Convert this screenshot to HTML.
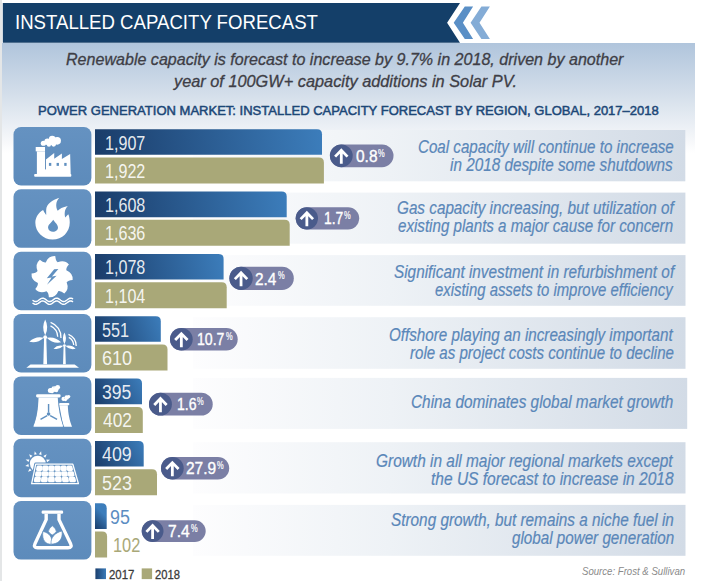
<!DOCTYPE html>
<html><head><meta charset="utf-8"><style>
html,body{margin:0;padding:0;width:721px;height:581px;overflow:hidden;background:#fff}
body{position:relative;font-family:"Liberation Sans",sans-serif}
#panel{position:absolute;left:2px;top:42.8px;width:693px;height:539px;background:linear-gradient(to bottom,#b0c5dc 0px,#d3deea 50px,#f4f6f9 95px,#ffffff 110px)}
#lline{position:absolute;left:0.3px;top:0;width:1.5px;height:581px;background:#e4e6e7}
svg{position:absolute;left:0;top:0}
.t{position:absolute;white-space:nowrap;line-height:1;transform-origin:0 0}
</style></head><body>
<div id="panel"></div><div id="lline"></div>
<svg width="721" height="581" viewBox="0 0 721 581">
<defs>
<linearGradient id="ib" x1="0" y1="0" x2="0" y2="1"><stop offset="0" stop-color="#6592c1"/><stop offset="1" stop-color="#5d8bbb"/></linearGradient>
<linearGradient id="band" x1="0" y1="0" x2="1" y2="0"><stop offset="0" stop-color="#fdfdfe"/><stop offset="0.4" stop-color="#eef2f6"/><stop offset="1" stop-color="#d2dbe6"/></linearGradient>
<linearGradient id="lg" x1="0" y1="0" x2="1" y2="0"><stop offset="0" stop-color="#1b3f6e"/><stop offset="1" stop-color="#3b7bb9"/></linearGradient>
</defs>
<polygon points="2.8,2.9 460,2.9 447.1,22.7 460,42.8 2.8,42.8" fill="#143f69"/>
<polygon points="464.8,6.5 473.1,6.5 462.9,22.7 473.1,39.1 464.8,39.1 453.7,22.7" fill="#5a8fc6"/>
<polygon points="481.4,6.5 489.9,6.5 479.5,22.7 489.9,39.1 481.4,39.1 470.6,22.7" fill="#84acd6"/>
<rect x="13.5" y="127.00" width="77.9" height="58.5" rx="7.5" fill="url(#ib)"/>
<rect x="13.5" y="189.35" width="77.9" height="58.5" rx="7.5" fill="url(#ib)"/>
<rect x="13.5" y="251.70" width="77.9" height="58.5" rx="7.5" fill="url(#ib)"/>
<rect x="13.5" y="314.05" width="77.9" height="58.5" rx="7.5" fill="url(#ib)"/>
<rect x="13.5" y="376.40" width="77.9" height="58.5" rx="7.5" fill="url(#ib)"/>
<rect x="13.5" y="438.75" width="77.9" height="58.5" rx="7.5" fill="url(#ib)"/>
<rect x="13.5" y="501.10" width="77.9" height="58.5" rx="7.5" fill="url(#ib)"/>
<rect x="193" y="130.00" width="492.30" height="51.30" fill="url(#band)"/>
<rect x="193" y="192.60" width="492.40" height="51.10" fill="url(#band)"/>
<rect x="193" y="255.10" width="492.50" height="50.70" fill="url(#band)"/>
<rect x="193" y="317.20" width="492.50" height="51.60" fill="url(#band)"/>
<rect x="193" y="377.90" width="494.20" height="51.00" fill="url(#band)"/>
<rect x="193" y="442.20" width="492.50" height="51.30" fill="url(#band)"/>
<rect x="193" y="504.90" width="492.50" height="50.90" fill="url(#band)"/>
<linearGradient id="bg0" gradientUnits="userSpaceOnUse" x1="95" y1="154.80" x2="322.00" y2="129.20"><stop offset="0" stop-color="#1a3c69"/><stop offset="1" stop-color="#3c7dbb"/></linearGradient>
<path d="M95,129.20 H317.00 Q322.00,129.20 322.00,134.20 V154.80 H95 Z" fill="url(#bg0)"/>
<path d="M95,157.50 H318.90 Q323.90,157.50 323.90,162.50 V183.50 H95 Z" fill="#a9a878"/>
<linearGradient id="bg1" gradientUnits="userSpaceOnUse" x1="95" y1="217.15" x2="286.70" y2="191.55"><stop offset="0" stop-color="#1a3c69"/><stop offset="1" stop-color="#3c7dbb"/></linearGradient>
<path d="M95,191.55 H281.70 Q286.70,191.55 286.70,196.55 V217.15 H95 Z" fill="url(#bg1)"/>
<path d="M95,219.85 H284.70 Q289.70,219.85 289.70,224.85 V245.85 H95 Z" fill="#a9a878"/>
<linearGradient id="bg2" gradientUnits="userSpaceOnUse" x1="95" y1="279.50" x2="223.60" y2="253.90"><stop offset="0" stop-color="#1a3c69"/><stop offset="1" stop-color="#3c7dbb"/></linearGradient>
<path d="M95,253.90 H218.60 Q223.60,253.90 223.60,258.90 V279.50 H95 Z" fill="url(#bg2)"/>
<path d="M95,282.20 H221.70 Q226.70,282.20 226.70,287.20 V308.20 H95 Z" fill="#a9a878"/>
<linearGradient id="bg3" gradientUnits="userSpaceOnUse" x1="95" y1="341.85" x2="160.80" y2="316.25"><stop offset="0" stop-color="#1a3c69"/><stop offset="1" stop-color="#3c7dbb"/></linearGradient>
<path d="M95,316.25 H155.80 Q160.80,316.25 160.80,321.25 V341.85 H95 Z" fill="url(#bg3)"/>
<path d="M95,344.55 H162.50 Q167.50,344.55 167.50,349.55 V370.55 H95 Z" fill="#a9a878"/>
<linearGradient id="bg4" gradientUnits="userSpaceOnUse" x1="95" y1="404.20" x2="142.00" y2="378.60"><stop offset="0" stop-color="#1a3c69"/><stop offset="1" stop-color="#3c7dbb"/></linearGradient>
<path d="M95,378.60 H137.00 Q142.00,378.60 142.00,383.60 V404.20 H95 Z" fill="url(#bg4)"/>
<path d="M95,406.90 H137.80 Q142.80,406.90 142.80,411.90 V432.90 H95 Z" fill="#a9a878"/>
<linearGradient id="bg5" gradientUnits="userSpaceOnUse" x1="95" y1="466.55" x2="143.70" y2="440.95"><stop offset="0" stop-color="#1a3c69"/><stop offset="1" stop-color="#3c7dbb"/></linearGradient>
<path d="M95,440.95 H138.70 Q143.70,440.95 143.70,445.95 V466.55 H95 Z" fill="url(#bg5)"/>
<path d="M95,469.25 H152.00 Q157.00,469.25 157.00,474.25 V495.25 H95 Z" fill="#a9a878"/>
<linearGradient id="bg6" gradientUnits="userSpaceOnUse" x1="95" y1="528.90" x2="106.70" y2="517.20"><stop offset="0" stop-color="#1a3c69"/><stop offset="1" stop-color="#3c7dbb"/></linearGradient>
<path d="M95,503.30 H101.70 Q106.70,503.30 106.70,508.30 V528.90 H95 Z" fill="url(#bg6)"/>
<path d="M95,531.60 H102.10 Q107.10,531.60 107.10,536.60 V557.60 H95 Z" fill="#a9a878"/>
<rect x="329.90" y="144.40" width="63.60" height="22.80" rx="11.40" fill="#7b7fa5"/>
<circle cx="341.30" cy="155.80" r="11.40" fill="#4a5b8b"/>
<path d="M341.30,149.80 V163.80 M335.10,156.60 L341.30,150.20 L347.50,156.60" stroke="#fff" stroke-width="2.8" fill="none" stroke-linejoin="miter"/>
<rect x="295.70" y="207.20" width="63.50" height="22.30" rx="11.15" fill="#7b7fa5"/>
<circle cx="306.85" cy="218.35" r="11.15" fill="#4a5b8b"/>
<path d="M306.85,212.35 V226.35 M300.65,219.15 L306.85,212.75 L313.05,219.15" stroke="#fff" stroke-width="2.8" fill="none" stroke-linejoin="miter"/>
<rect x="229.40" y="266.70" width="64.40" height="23.30" rx="11.65" fill="#7b7fa5"/>
<circle cx="241.05" cy="278.35" r="11.65" fill="#4a5b8b"/>
<path d="M241.05,272.35 V286.35 M234.85,279.15 L241.05,272.75 L247.25,279.15" stroke="#fff" stroke-width="2.8" fill="none" stroke-linejoin="miter"/>
<rect x="170.00" y="327.90" width="67.70" height="22.70" rx="11.35" fill="#7b7fa5"/>
<circle cx="181.35" cy="339.25" r="11.35" fill="#4a5b8b"/>
<path d="M181.35,333.25 V347.25 M175.15,340.05 L181.35,333.65 L187.55,340.05" stroke="#fff" stroke-width="2.8" fill="none" stroke-linejoin="miter"/>
<rect x="149.00" y="392.70" width="63.70" height="22.90" rx="11.45" fill="#7b7fa5"/>
<circle cx="160.45" cy="404.15" r="11.45" fill="#4a5b8b"/>
<path d="M160.45,398.15 V412.15 M154.25,404.95 L160.45,398.55 L166.65,404.95" stroke="#fff" stroke-width="2.8" fill="none" stroke-linejoin="miter"/>
<rect x="161.00" y="456.90" width="68.20" height="22.70" rx="11.35" fill="#7b7fa5"/>
<circle cx="172.35" cy="468.25" r="11.35" fill="#4a5b8b"/>
<path d="M172.35,462.25 V476.25 M166.15,469.05 L172.35,462.65 L178.55,469.05" stroke="#fff" stroke-width="2.8" fill="none" stroke-linejoin="miter"/>
<rect x="141.70" y="520.20" width="64.00" height="21.80" rx="10.90" fill="#7b7fa5"/>
<circle cx="152.60" cy="531.10" r="10.90" fill="#4a5b8b"/>
<path d="M152.60,525.10 V539.10 M146.40,531.90 L152.60,525.50 L158.80,531.90" stroke="#fff" stroke-width="2.8" fill="none" stroke-linejoin="miter"/>
<rect x="95.4" y="568.4" width="10.6" height="10.7" fill="url(#lg)"/>
<rect x="141.7" y="568.4" width="10.4" height="10.7" fill="#a9a878"/>
<g transform="translate(10,124) scale(0.117925)"><g fill="#fff"><circle cx="283" cy="163" r="22"/><circle cx="318" cy="150" r="27"/><circle cx="358" cy="128" r="28"/><circle cx="400" cy="143" r="32"/><circle cx="370" cy="172" r="20"/><circle cx="330" cy="175" r="18"/><ellipse cx="345" cy="158" rx="60" ry="20"/><rect x="218" y="195" width="79" height="37"/><rect x="228" y="232" width="69" height="200"/><polygon points="305,300 375,245 375,295 440,250 440,297 510,255 515,432 305,432"/><rect x="290" y="385" width="20" height="47"/><rect x="205" y="423" width="315" height="24" rx="8"/></g><g fill="#6090c0"><rect x="330" y="330" width="20" height="25"/><rect x="395" y="330" width="20" height="25"/><rect x="460" y="330" width="20" height="25"/></g></g>
<g transform="translate(30,194) scale(0.086059)"><path fill="#fff" d="M340,45 C260,70 190,120 188,185 C187,210 190,230 188,245 C175,225 160,205 152,185 C100,215 62,270 62,335 C62,440 150,530 262,530 C375,530 462,440 462,330 C462,290 455,255 445,235 C430,250 418,262 410,272 C398,230 400,175 440,138 C380,150 340,170 322,195 C295,150 300,85 340,45 Z"/><path fill="#6090c0" d="M270,298 C250,330 208,355 210,392 C212,422 240,440 267,440 C300,440 325,418 325,390 C325,355 290,330 270,298 Z"/></g>
<path fill="#fff" d="M55.35,256.16 Q55.51,260.66 57.69,262.14 Q64.68,259.39 68.93,264.47 Q65.85,267.77 66.35,270.35 Q73.24,273.35 72.64,279.95 Q68.14,280.11 66.66,282.29 Q69.41,289.28 64.33,293.53 Q61.03,290.45 58.45,290.95 Q55.45,297.84 48.85,297.24 Q48.69,292.74 46.51,291.26 Q39.52,294.01 35.27,288.93 Q38.35,285.63 37.85,283.05 Q30.96,280.05 31.56,273.45 Q36.06,273.29 37.54,271.11 Q34.79,264.12 39.87,259.87 Q43.17,262.95 45.75,262.45 Q48.75,255.56 55.35,256.16 Z"/><polygon fill="#6090c0" points="58.4,269.1 54.2,269.3 46.8,278.3 51.6,277.6 47,284.7 56.6,275.8 51.9,276.4"/><polyline fill="none" stroke="#fff" stroke-width="1.45" stroke-linecap="round" points="33.00,300.48 33.66,300.92 34.32,301.26 34.98,301.47 35.64,301.55 36.30,301.48 36.96,301.26 37.62,300.93 38.28,300.50 38.94,300.01 39.60,299.51 40.26,299.04 40.92,298.64 41.58,298.34 42.24,298.18 42.90,298.16 43.56,298.29 44.22,298.55 44.88,298.93 45.54,299.39 46.20,299.89 46.86,300.38 47.52,300.83 48.18,301.19 48.84,301.44 49.50,301.55 50.16,301.51 50.82,301.32 51.48,301.01 52.14,300.59 52.80,300.12 53.46,299.61 54.12,299.13 54.78,298.71 55.44,298.39 56.10,298.20 56.76,298.15 57.42,298.25 58.08,298.49 58.74,298.84 59.40,299.29 60.06,299.78 60.72,300.28 61.38,300.74 62.04,301.13 62.70,301.40 63.36,301.54 64.02,301.53 64.68,301.37 65.34,301.08 66.00,300.69 66.66,300.22 67.32,299.72 67.98,299.23 68.64,298.80 69.30,298.45 69.96,298.23 70.62,298.15 71.28,298.22 71.94,298.43 72.60,298.76"/><polyline fill="none" stroke="#fff" stroke-width="1.45" stroke-linecap="round" points="33.00,303.28 33.66,303.72 34.32,304.06 34.98,304.27 35.64,304.35 36.30,304.28 36.96,304.06 37.62,303.73 38.28,303.30 38.94,302.81 39.60,302.31 40.26,301.84 40.92,301.44 41.58,301.14 42.24,300.98 42.90,300.96 43.56,301.09 44.22,301.35 44.88,301.73 45.54,302.19 46.20,302.69 46.86,303.18 47.52,303.63 48.18,303.99 48.84,304.24 49.50,304.35 50.16,304.31 50.82,304.12 51.48,303.81 52.14,303.39 52.80,302.92 53.46,302.41 54.12,301.93 54.78,301.51 55.44,301.19 56.10,301.00 56.76,300.95 57.42,301.05 58.08,301.29 58.74,301.64 59.40,302.09 60.06,302.58 60.72,303.08 61.38,303.54 62.04,303.93 62.70,304.20 63.36,304.34 64.02,304.33 64.68,304.17 65.34,303.88 66.00,303.49 66.66,303.02 67.32,302.52 67.98,302.03 68.64,301.60 69.30,301.25 69.96,301.03 70.62,300.95 71.28,301.02 71.94,301.23 72.60,301.56"/>
<g transform="translate(24,316) scale(0.092937)"><path fill="#fff" d="M228.0,209.0 Q272.0,123.5 228.0,38.0 Q184.0,123.5 228.0,209.0 ZM210.9,232.9 Q121.8,212.7 56.9,277.1 Q146.0,297.3 210.9,232.9 ZM245.1,233.6 Q308.6,300.4 399.2,283.6 Q335.8,216.7 245.1,233.6 ZM435.0,304.0 Q469.0,241.0 435.0,178.0 Q401.0,241.0 435.0,304.0 ZM423.3,321.4 Q361.1,303.8 317.7,351.6 Q379.9,369.2 423.3,321.4 ZM447.0,321.4 Q491.7,369.6 555.2,352.5 Q510.5,304.3 447.0,321.4 Z"/><circle cx="228" cy="228" r="20" fill="#fff"/><circle cx="435" cy="318" r="15" fill="#fff"/><polygon fill="#fff" points="216,240 240,240 248,520 208,520"/><polygon fill="#fff" points="426,325 444,325 450,520 420,520"/><polygon fill="#fff" points="70,522 545,522 592,556 25,556"/><path fill="none" stroke="#fff" stroke-width="14" d="M286.1,68.3 A170.0,170.0 0 0 1 397.8,236.9 M285.1,105.6 A135.0,135.0 0 0 1 362.9,223.3 M478.4,198.7 A127.0,127.0 0 0 1 561.9,322.4 M481.9,229.7 A100.0,100.0 0 0 1 534.9,312.8"/></g>
<g transform="translate(28,380) scale(0.089445)"><path fill="#fff" d="M350,282 L445,282 C448,380 465,450 492,522 L395,522 Z"/><rect fill="#fff" x="348" y="258" width="114" height="24" rx="10"/><path fill="#fff" stroke="#6090c0" stroke-width="12" d="M118,195 L332,195 C338,320 360,420 398,526 L56,526 C100,420 114,320 118,195 Z"/><path fill="#fff" d="M118,195 L332,195 C338,320 360,420 392,520 L60,520 C102,420 114,320 118,195 Z"/><rect fill="#fff" x="90" y="160" width="275" height="35" rx="15"/><path fill="none" stroke="#6090c0" stroke-width="16" d="M230,268 V362 M140,440 L214,397 M325,440 L248,397"/><circle cx="230" cy="380" r="20" fill="#6090c0"/><circle fill="#fff" cx="250" cy="118" r="28"/><circle fill="#fff" cx="295" cy="98" r="32"/><circle fill="#fff" cx="332" cy="82" r="26"/><circle fill="#fff" cx="318" cy="118" r="20"/><circle fill="#fff" cx="270" cy="130" r="18"/><ellipse fill="#fff" cx="290" cy="106" rx="58" ry="24" transform="rotate(-18 290 106)"/><ellipse fill="#6090c0" cx="290" cy="76" rx="9" ry="4"/><circle fill="#fff" cx="398" cy="212" r="24"/><circle fill="#fff" cx="432" cy="195" r="25"/><circle fill="#fff" cx="455" cy="185" r="18"/><circle fill="#fff" cx="420" cy="222" r="16"/><ellipse fill="#fff" cx="425" cy="203" rx="38" ry="16" transform="rotate(-25 425 203)"/><ellipse fill="#6090c0" cx="408" cy="202" rx="5" ry="3.5"/></g>
<g transform="translate(25,448) scale(0.079051)"><circle fill="#fff" cx="162" cy="197" r="100"/><polygon fill="#fff" points="279.8,178.8 316.9,149.6 269.9,146.2"/><polygon fill="#fff" points="256.2,123.9 274.5,80.5 231.7,100.3"/><polygon fill="#fff" points="209.0,87.4 203.9,40.5 176.1,78.6"/><polygon fill="#fff" points="149.9,78.4 122.8,39.8 117.0,86.6"/><polygon fill="#fff" points="94.0,99.1 51.5,78.5 69.1,122.3"/><polygon fill="#fff" points="55.0,144.4 7.9,146.9 44.5,176.7"/><polygon fill="#fff" points="42.9,202.8 3.0,227.9 49.4,236.2"/><polygon fill="#fff" points="60.7,259.8 37.9,301.1 82.5,285.9"/><polygon fill="#6090c0" stroke="#6090c0" stroke-width="40" stroke-linejoin="round" points="136,204 605,205 676,452 84,452"/><polygon fill="none" stroke="#fff" stroke-width="16" stroke-linejoin="round" points="136,204 605,205 676,452 84,452"/><polygon fill="#fff" stroke="#fff" stroke-width="40" stroke-linejoin="round" points="165.1,242.8 203.3,242.8 199.0,271.8 159.5,271.8"/><polygon fill="#fff" stroke="#fff" stroke-width="40" stroke-linejoin="round" points="240.3,242.8 278.5,242.8 276.6,271.8 237.2,271.8"/><polygon fill="#fff" stroke="#fff" stroke-width="40" stroke-linejoin="round" points="315.6,242.8 353.8,242.8 354.3,271.8 314.8,271.8"/><polygon fill="#fff" stroke="#fff" stroke-width="40" stroke-linejoin="round" points="390.8,242.8 429.0,242.8 431.9,271.8 392.5,271.8"/><polygon fill="#fff" stroke="#fff" stroke-width="40" stroke-linejoin="round" points="466.0,242.8 504.2,242.8 509.6,271.8 470.1,271.8"/><polygon fill="#fff" stroke="#fff" stroke-width="40" stroke-linejoin="round" points="541.3,242.8 579.5,242.8 587.2,271.8 547.8,271.8"/><polygon fill="#fff" stroke="#fff" stroke-width="40" stroke-linejoin="round" points="151.6,313.4 192.8,313.4 188.4,342.4 146.0,342.4"/><polygon fill="#fff" stroke="#fff" stroke-width="40" stroke-linejoin="round" points="232.7,313.4 273.9,313.4 272.0,342.4 229.5,342.4"/><polygon fill="#fff" stroke="#fff" stroke-width="40" stroke-linejoin="round" points="313.8,313.4 355.0,313.4 355.5,342.4 313.1,342.4"/><polygon fill="#fff" stroke="#fff" stroke-width="40" stroke-linejoin="round" points="394.9,313.4 436.1,313.4 439.0,342.4 396.6,342.4"/><polygon fill="#fff" stroke="#fff" stroke-width="40" stroke-linejoin="round" points="476.0,313.4 517.2,313.4 522.6,342.4 480.1,342.4"/><polygon fill="#fff" stroke="#fff" stroke-width="40" stroke-linejoin="round" points="557.1,313.4 598.3,313.4 606.1,342.4 563.7,342.4"/><polygon fill="#fff" stroke="#fff" stroke-width="40" stroke-linejoin="round" points="138.0,384.0 182.2,384.0 177.8,413.2 132.4,413.2"/><polygon fill="#fff" stroke="#fff" stroke-width="40" stroke-linejoin="round" points="225.0,384.0 269.2,384.0 267.3,413.2 221.8,413.2"/><polygon fill="#fff" stroke="#fff" stroke-width="40" stroke-linejoin="round" points="312.0,384.0 356.2,384.0 356.7,413.2 311.3,413.2"/><polygon fill="#fff" stroke="#fff" stroke-width="40" stroke-linejoin="round" points="399.0,384.0 443.2,384.0 446.2,413.2 400.7,413.2"/><polygon fill="#fff" stroke="#fff" stroke-width="40" stroke-linejoin="round" points="486.0,384.0 530.2,384.0 535.6,413.2 490.2,413.2"/><polygon fill="#fff" stroke="#fff" stroke-width="40" stroke-linejoin="round" points="573.0,384.0 617.2,384.0 625.0,413.2 579.6,413.2"/></g>
<g transform="translate(28,506) scale(0.082645)"><path fill="none" stroke="#fff" stroke-width="41" stroke-linejoin="round" d="M220,95 V165 L85,455 Q62,505 115,505 L485,505 Q538,505 515,455 L375,165 V95"/><rect fill="#fff" x="165" y="55" width="260" height="40" rx="15"/><path fill="#fff" stroke="#6090c0" stroke-width="8" d="M180,306 C165,420 218,464 282,462 C302,380 262,328 182,308 Z"/><path fill="#fff" stroke="#6090c0" stroke-width="8" d="M414,302 C325,322 268,388 280,462 C362,460 425,412 412,304 Z"/><path fill="#fff" stroke="#6090c0" stroke-width="8" d="M295,238 Q244,280 248,308 Q262,334 293,352 Q326,334 342,308 Q344,280 295,238 Z"/></g>
</svg>
<div class="t" style="left:15.12px;top:12.90px;font-size:19.8px;color:#fff;transform:scaleX(0.9406)">INSTALLED CAPACITY FORECAST</div>
<div class="t" style="left:66.10px;top:50.80px;font-size:16.5px;font-style:italic;-webkit-text-stroke-width:0.3px;color:#3e3e46;transform:scaleX(0.9740)">Renewable capacity is forecast to increase by 9.7% in 2018, driven by another</div>
<div class="t" style="left:173.59px;top:72.90px;font-size:16.5px;font-style:italic;-webkit-text-stroke-width:0.3px;color:#3e3e46;transform:scaleX(0.9887)">year of 100GW+ capacity additions in Solar PV.</div>
<div class="t" style="left:38.01px;top:103.60px;font-size:13.2px;-webkit-text-stroke:0.5px #1c4777;color:#1c4777;transform:scaleX(0.9873)">POWER GENERATION MARKET: INSTALLED CAPACITY FORECAST BY REGION, GLOBAL, 2017&#8211;2018</div>
<div class="t" style="left:104.61px;top:132.50px;font-size:20.5px;color:rgba(255,255,255,0.9);transform:scaleX(0.7860)">1,907</div>
<div class="t" style="left:104.61px;top:160.80px;font-size:20.5px;color:rgba(255,255,255,0.9);transform:scaleX(0.7860)">1,922</div>
<div class="t" style="left:104.61px;top:194.85px;font-size:20.5px;color:rgba(255,255,255,0.9);transform:scaleX(0.7860)">1,608</div>
<div class="t" style="left:104.61px;top:223.15px;font-size:20.5px;color:rgba(255,255,255,0.9);transform:scaleX(0.7860)">1,636</div>
<div class="t" style="left:104.51px;top:257.20px;font-size:20.5px;color:rgba(255,255,255,0.9);transform:scaleX(0.7860)">1,078</div>
<div class="t" style="left:104.51px;top:285.50px;font-size:20.5px;color:rgba(255,255,255,0.9);transform:scaleX(0.7860)">1,104</div>
<div class="t" style="left:101.91px;top:319.55px;font-size:20.5px;color:rgba(255,255,255,0.9);transform:scaleX(0.7906)">551</div>
<div class="t" style="left:101.82px;top:347.85px;font-size:20.5px;color:rgba(255,255,255,0.9);transform:scaleX(0.8788)">610</div>
<div class="t" style="left:101.74px;top:381.90px;font-size:20.5px;color:rgba(255,255,255,0.9);transform:scaleX(0.8563)">395</div>
<div class="t" style="left:102.60px;top:410.20px;font-size:20.5px;color:rgba(255,255,255,0.9);transform:scaleX(0.8455)">402</div>
<div class="t" style="left:102.00px;top:444.25px;font-size:20.5px;color:rgba(255,255,255,0.9);transform:scaleX(0.8667)">409</div>
<div class="t" style="left:101.83px;top:472.55px;font-size:20.5px;color:rgba(255,255,255,0.9);transform:scaleX(0.8719)">523</div>
<div class="t" style="left:109.73px;top:506.60px;font-size:20.5px;color:#5b8dc2;transform:scaleX(0.8714)">95</div>
<div class="t" style="left:113.40px;top:534.90px;font-size:20.5px;color:#a9a878;transform:scaleX(0.8000)">102</div>
<div class="t" style="left:356.10px;top:147.90px;font-size:17px;-webkit-text-stroke:0.35px #fff;color:#fff;transform:scaleX(0.9087)">0.8</div>
<div class="t" style="left:377.90px;top:147.60px;font-size:10.5px;-webkit-text-stroke:0.2px #fff;color:#fff;transform:scaleX(0.7111)">%</div>
<div class="t" style="left:323.98px;top:210.30px;font-size:17px;-webkit-text-stroke:0.35px #fff;color:#fff;transform:scaleX(0.8182)">1.7</div>
<div class="t" style="left:343.70px;top:210.00px;font-size:10.5px;-webkit-text-stroke:0.2px #fff;color:#fff;transform:scaleX(0.7111)">%</div>
<div class="t" style="left:255.10px;top:270.70px;font-size:17px;-webkit-text-stroke:0.35px #fff;color:#fff;transform:scaleX(0.9043)">2.4</div>
<div class="t" style="left:277.70px;top:270.40px;font-size:10.5px;-webkit-text-stroke:0.2px #fff;color:#fff;transform:scaleX(0.7111)">%</div>
<div class="t" style="left:197.47px;top:331.10px;font-size:17px;-webkit-text-stroke:0.35px #fff;color:#fff;transform:scaleX(0.8281)">10.7</div>
<div class="t" style="left:225.70px;top:330.80px;font-size:10.5px;-webkit-text-stroke:0.2px #fff;color:#fff;transform:scaleX(0.7111)">%</div>
<div class="t" style="left:177.47px;top:396.40px;font-size:17px;-webkit-text-stroke:0.35px #fff;color:#fff;transform:scaleX(0.8273)">1.6</div>
<div class="t" style="left:197.40px;top:396.10px;font-size:10.5px;-webkit-text-stroke:0.2px #fff;color:#fff;transform:scaleX(0.7111)">%</div>
<div class="t" style="left:186.19px;top:460.10px;font-size:17px;-webkit-text-stroke:0.35px #fff;color:#fff;transform:scaleX(0.9094)">27.9</div>
<div class="t" style="left:217.10px;top:459.80px;font-size:10.5px;-webkit-text-stroke:0.2px #fff;color:#fff;transform:scaleX(0.7111)">%</div>
<div class="t" style="left:167.78px;top:523.30px;font-size:17px;-webkit-text-stroke:0.35px #fff;color:#fff;transform:scaleX(0.9174)">7.4</div>
<div class="t" style="left:190.70px;top:523.00px;font-size:10.5px;-webkit-text-stroke:0.2px #fff;color:#fff;transform:scaleX(0.7111)">%</div>
<div class="t" style="left:417.84px;top:139.10px;font-size:17.5px;font-style:italic;-webkit-text-stroke-width:0.2px;color:#5a87b9;transform:scaleX(0.8650)">Coal capacity will continue to increase</div>
<div class="t" style="left:450.30px;top:156.80px;font-size:17.5px;font-style:italic;-webkit-text-stroke-width:0.2px;color:#5a87b9;transform:scaleX(0.8733)">in 2018 despite some shutdowns</div>
<div class="t" style="left:397.43px;top:199.80px;font-size:17.5px;font-style:italic;-webkit-text-stroke-width:0.2px;color:#5a87b9;transform:scaleX(0.8726)">Gas capacity increasing, but utilization of</div>
<div class="t" style="left:397.80px;top:217.80px;font-size:17.5px;font-style:italic;-webkit-text-stroke-width:0.2px;color:#5a87b9;transform:scaleX(0.8648)">existing plants a major cause for concern</div>
<div class="t" style="left:393.92px;top:263.60px;font-size:17.5px;font-style:italic;-webkit-text-stroke-width:0.2px;color:#5a87b9;transform:scaleX(0.8754)">Significant investment in refurbishment of</div>
<div class="t" style="left:435.10px;top:281.90px;font-size:17.5px;font-style:italic;-webkit-text-stroke-width:0.2px;color:#5a87b9;transform:scaleX(0.8511)">existing assets to improve efficiency</div>
<div class="t" style="left:388.73px;top:327.00px;font-size:17.5px;font-style:italic;-webkit-text-stroke-width:0.2px;color:#5a87b9;transform:scaleX(0.8679)">Offshore playing an increasingly important</div>
<div class="t" style="left:409.80px;top:344.90px;font-size:17.5px;font-style:italic;-webkit-text-stroke-width:0.2px;color:#5a87b9;transform:scaleX(0.8614)">role as project costs continue to decline</div>
<div class="t" style="left:411.32px;top:393.90px;font-size:17.5px;font-style:italic;-webkit-text-stroke-width:0.2px;color:#5a87b9;transform:scaleX(0.8781)">China dominates global market growth</div>
<div class="t" style="left:376.32px;top:452.70px;font-size:17.5px;font-style:italic;-webkit-text-stroke-width:0.2px;color:#5a87b9;transform:scaleX(0.8815)">Growth in all major regional markets except</div>
<div class="t" style="left:431.11px;top:470.50px;font-size:17.5px;font-style:italic;-webkit-text-stroke-width:0.2px;color:#5a87b9;transform:scaleX(0.8875)">the US forecast to increase in 2018</div>
<div class="t" style="left:390.52px;top:512.30px;font-size:17.5px;font-style:italic;-webkit-text-stroke-width:0.2px;color:#5a87b9;transform:scaleX(0.8758)">Strong growth, but remains a niche fuel in</div>
<div class="t" style="left:511.90px;top:530.20px;font-size:17.5px;font-style:italic;-webkit-text-stroke-width:0.2px;color:#5a87b9;transform:scaleX(0.8683)">global power generation</div>
<div class="t" style="left:109.10px;top:568.60px;font-size:12.5px;-webkit-text-stroke:0.3px #3a3a3a;color:#3a3a3a;transform:scaleX(0.9107)">2017</div>
<div class="t" style="left:155.20px;top:568.60px;font-size:12.5px;-webkit-text-stroke:0.3px #3a3a3a;color:#3a3a3a;transform:scaleX(0.8964)">2018</div>
<div class="t" style="left:581.70px;top:565.80px;font-size:11.5px;font-style:italic;color:#8a8a8a;transform:scaleX(0.8358)">Source: Frost &amp; Sullivan</div>
</body></html>
